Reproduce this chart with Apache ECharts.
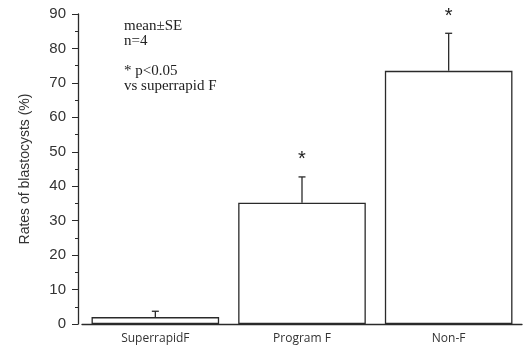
<!DOCTYPE html>
<html>
<head>
<meta charset="utf-8">
<script src="https://cdn.jsdelivr.net/npm/echarts@6/dist/echarts.min.js"></script>
<style>
  html, body { margin: 0; padding: 0; background: #fff; }
  #chart { width: 525px; height: 348px; }
</style>
</head>
<body>
<div id="chart"></div>
<script>
// Blastocyst rates by freezing method (mean ± SE, n=4)
const categories = ['SuperrapidF', 'Program F', 'Non-F'];
const means = [2.0, 35.2, 73.5];
const upperErrors = [1.7, 7.5, 10.9];
const significant = [false, true, true];
const yTicks = { min: 0, max: 90, interval: 10 };

const lineColor = '#2a2a2a';

const chart = echarts.init(document.getElementById('chart'));

const errorData = means.map((m, i) => [i, m, m + upperErrors[i], significant[i] ? 1 : 0]);

chart.setOption({
  animation: false,
  backgroundColor: '#fff',
  grid: { left: 82, right: 3, top: 14, bottom: 24 },
  xAxis: {
    type: 'category',
    data: categories,
    axisLine: { lineStyle: { color: lineColor, width: 1.3 } },
    axisTick: { alignWithLabel: true, length: 4, lineStyle: { color: lineColor } },
    axisLabel: { color: '#333', fontSize: 12, fontFamily: 'Open Sans', margin: 9 }
  },
  yAxis: {
    type: 'value',
    min: yTicks.min,
    max: yTicks.max,
    interval: yTicks.interval,
    offset: 4,
    name: 'Rates of blastocysts (%)',
    nameLocation: 'middle',
    nameGap: 46,
    nameTextStyle: { color: '#333', fontSize: 14, fontFamily: 'Liberation Sans' },
    axisLine: { show: true, lineStyle: { color: lineColor, width: 1.3 } },
    axisTick: { show: true, length: 6, lineStyle: { color: lineColor } },
    minorTick: { show: true, splitNumber: 2, length: 3, lineStyle: { color: lineColor } },
    splitLine: { show: false },
    axisLabel: { color: '#333', fontSize: 15, fontFamily: 'Liberation Sans', margin: 12 }
  },
  series: [
    {
      type: 'bar',
      data: means,
      barWidth: '87%',
      itemStyle: { color: '#fff', borderColor: lineColor, borderWidth: 1.3 },
      z: 2
    },
    {
      type: 'custom',
      data: errorData,
      z: 3,
      renderItem: function (params, api) {
        const x = api.value(0);
        const top = api.coord([x, api.value(2)]);
        const base = api.coord([x, api.value(1)]);
        const cap = 3.5;
        const style = { stroke: lineColor, lineWidth: 1.3 };
        const children = [
          { type: 'line', shape: { x1: top[0], y1: base[1], x2: top[0], y2: top[1] }, style: style },
          { type: 'line', shape: { x1: top[0] - cap, y1: top[1], x2: top[0] + cap, y2: top[1] }, style: style }
        ];
        if (api.value(3)) {
          children.push({
            type: 'text',
            style: {
              text: '*', x: top[0], y: top[1] - 7,
              textAlign: 'center', textVerticalAlign: 'bottom',
              fill: '#222', font: '20px Liberation Sans'
            }
          });
        }
        return { type: 'group', children: children };
      }
    }
  ],
  graphic: [
    {
      type: 'text', left: 124, top: 19,
      style: {
        text: 'mean±SE\nn=4',
        fill: '#222', font: '15px Liberation Serif', lineHeight: 15
      }
    },
    {
      type: 'text', left: 124, top: 64,
      style: {
        text: '* p<0.05\nvs superrapid F',
        fill: '#222', font: '15px Liberation Serif', lineHeight: 15
      }
    }
  ]
});
</script>
</body>
</html>
